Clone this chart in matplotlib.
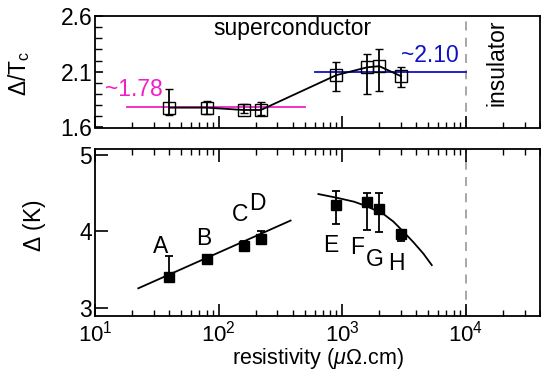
import numpy as np
import matplotlib
matplotlib.use("Agg")
import matplotlib.pyplot as plt
from matplotlib.ticker import FixedLocator, MultipleLocator, LogLocator, NullFormatter

plt.rcParams['font.family'] = ['Liberation Sans', 'DejaVu Sans']
plt.rcParams['mathtext.fontset'] = 'custom'
plt.rcParams['mathtext.rm'] = 'Liberation Sans'
plt.rcParams['mathtext.it'] = 'Liberation Sans:italic'
plt.rcParams['mathtext.default'] = 'regular'

# ---------------- data ----------------
resistivity = [40, 80, 160, 220, 900, 1600, 2000, 3000]
sample_labels = ['A', 'B', 'C', 'D', 'E', 'F', 'G', 'H']

# top panel: Delta / Tc
ratio = [1.778, 1.778, 1.757, 1.757, 2.07, 2.14, 2.15, 2.06]
ratio_hi = [1.943, 1.84, 1.81, 1.83, 2.19, 2.26, 2.30, 2.14]
ratio_lo = [1.713, 1.72, 1.73, 1.71, 1.93, 1.90, 1.93, 1.96]

low_avg_x = [18, 500]
low_avg_y = [1.78, 1.78]
high_avg_x = [600, 10000]
high_avg_y = [2.10, 2.10]

# bottom panel: gap Delta (K)
gap = [3.41, 3.645, 3.81, 3.905, 4.347, 4.39, 4.30, 3.97]
gap_hi = [3.675, 3.68, 3.88, 4.01, 4.53, 4.50, 4.50, 4.02]
gap_lo = [3.41, 3.61, 3.78, 3.88, 4.10, 4.026, 3.99, 3.87]

fit_left_x = [22.4, 383]
fit_left_y = [3.256, 4.143]
fit_right_x = [643, 916, 1250, 1585, 2158, 2600, 3040, 3777, 4550, 5320]
fit_right_y = [4.49, 4.44, 4.39, 4.33, 4.23, 4.13, 4.02, 3.86, 3.71, 3.56]

transition_x = 1e4

# ---------------- styles ----------------
W, H = 541, 372
DPI = 100
FS = 16.5
magenta = '#f020c8'
blue = '#1010c8'

label_offsets = [(-9, 30), (-3, 20), (-4, 31), (-3, 35),
                 (-6, -41), (-10, -46), (-4, -51), (-5, -30)]

fig = plt.figure(figsize=(W / DPI, H / DPI), dpi=DPI)
L = 95 / W
Wd = 445 / W
ax1 = fig.add_axes([L, 1 - 127.5 / H, Wd, 111.5 / H])
ax2 = fig.add_axes([L, 1 - 315.5 / H, Wd, 166.5 / H])

for ax in (ax1, ax2):
    ax.set_xscale('log')
    ax.set_xlim(10, 4e4)
    for s in ax.spines.values():
        s.set_linewidth(1.3)
    ax.axvline(transition_x, color='#a0a0a0', ls=(0, (5, 4)), lw=1.3, zorder=1)
    ax.xaxis.set_major_locator(LogLocator(base=10, numticks=10))
    ax.xaxis.set_minor_locator(LogLocator(base=10, subs=np.arange(2, 10), numticks=20))

# ---- top panel ----
ratio_arr = np.array(ratio)
yerr1 = [ratio_arr - np.array(ratio_lo), np.array(ratio_hi) - ratio_arr]
ax1.plot(low_avg_x, low_avg_y, color=magenta, lw=1.3, zorder=2)
ax1.plot(high_avg_x, high_avg_y, color=blue, lw=1.3, zorder=2)
ax1.errorbar(resistivity, ratio, yerr=yerr1, fmt='s-', color='black', lw=1.3,
             elinewidth=1.3, capsize=3.2, capthick=1.3, ms=8, mfc='none',
             mec='black', mew=1.0, zorder=3)
ax1.set_ylim(1.6, 2.6)
ax1.yaxis.set_major_locator(FixedLocator([1.6, 2.1, 2.6]))
ax1.yaxis.set_minor_locator(MultipleLocator(0.1))
ax1.tick_params(axis='both', which='both', direction='in', labelsize=FS)
ax1.tick_params(axis='x', which='both', top=False, bottom=True, labelbottom=False)
ax1.tick_params(axis='y', which='both', right=False)
ax1.tick_params(axis='x', which='major', length=9, width=1.2)
ax1.tick_params(axis='x', which='minor', length=4.5, width=1.0)
ax1.tick_params(axis='y', which='major', length=5.5, width=1.2, pad=2)
ax1.tick_params(axis='y', which='minor', length=5, width=1.0)
ax1.set_ylabel(r'$\Delta$/T$_\mathrm{c}$', fontsize=FS)
ax1.yaxis.set_label_coords(-0.142, 0.49)

ax1.text(0.443, 0.885, 'superconductor', transform=ax1.transAxes,
         ha='center', va='center', fontsize=FS)
ax1.text(0.903, 0.578, 'insulator', transform=ax1.transAxes, rotation=90,
         ha='center', va='center', fontsize=FS)
ax1.text(0.0876, 0.345, '~1.78', transform=ax1.transAxes, color=magenta,
         ha='center', va='center', fontsize=FS)
ax1.text(0.753, 0.65, '~2.10', transform=ax1.transAxes, color=blue,
         ha='center', va='center', fontsize=FS)

# ---- bottom panel ----
gap_arr = np.array(gap)
yerr2 = [gap_arr - np.array(gap_lo), np.array(gap_hi) - gap_arr]
ax2.plot(fit_left_x, fit_left_y, color='black', lw=1.3, zorder=2)
ax2.plot(fit_right_x, fit_right_y, color='black', lw=1.3, zorder=2)
ax2.errorbar(resistivity, gap, yerr=yerr2, fmt='s', color='black',
             elinewidth=1.3, capsize=3.2, capthick=1.3, ms=7.5, mfc='black',
             mec='black', zorder=3)
for xv, yv, lab, off in zip(resistivity, gap, sample_labels, label_offsets):
    ax2.annotate(lab, (xv, yv), xytext=off, textcoords='offset pixels',
                 ha='center', va='center', fontsize=FS)
ax2.set_ylim(2.9, 5.08)
ax2.yaxis.set_major_locator(FixedLocator([3, 4, 5]))
ax2.tick_params(axis='both', which='both', direction='in', labelsize=FS)
ax2.tick_params(axis='x', which='both', top=True, bottom=True, labelsize=16)
ax2.tick_params(axis='y', which='both', right=False)
ax2.tick_params(axis='x', which='major', length=9, width=1.2, pad=3.5)
ax2.tick_params(axis='x', which='minor', length=4.5, width=1.0)
ax2.tick_params(axis='y', which='major', length=9, width=1.2, pad=2)
ax2.xaxis.set_minor_formatter(NullFormatter())
ax2.set_ylabel(r'$\Delta$ (K)', fontsize=FS)
ax2.yaxis.set_label_coords(-0.106, 0.54)
ax2.set_xlabel(r'resistivity ($\mathit{\mu}$$\Omega$.cm)', fontsize=15.5, labelpad=0)

fig.savefig('out.png', dpi=DPI)
